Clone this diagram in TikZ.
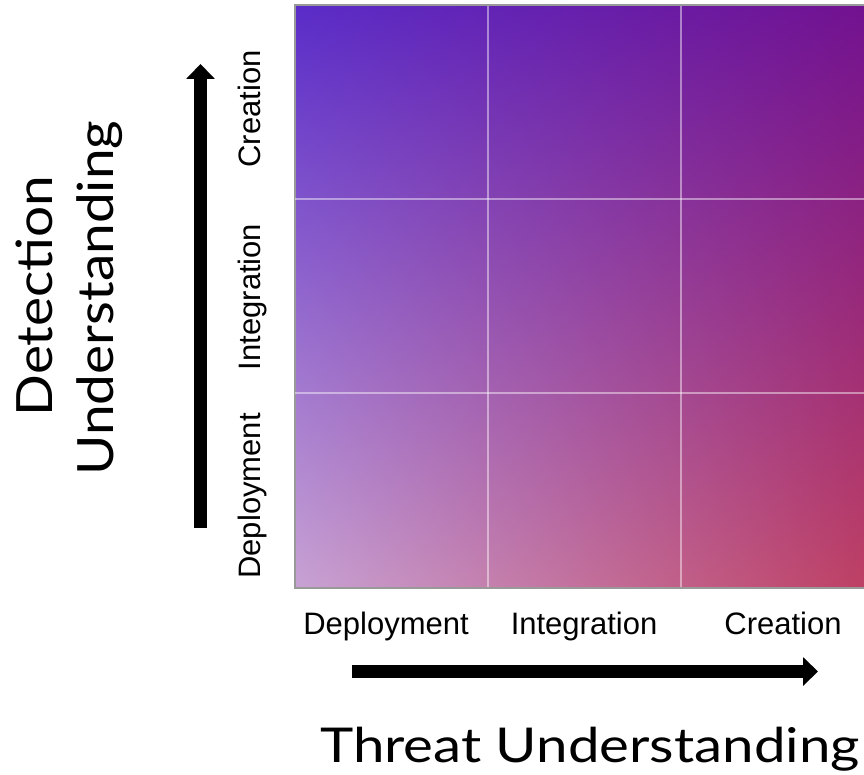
\documentclass[tikz,border=0pt]{standalone}
\usepackage{fontspec}
\setmainfont{Liberation Sans}
\newfontfamily\bigfont[FakeStretch=1.175]{Lato}
\newfontfamily\sidefont[FakeStretch=1.1]{Lato}
\usetikzlibrary{arrows.meta,shadings}
\definecolor{cTL}{RGB}{90,44,200}
\definecolor{cTR}{RGB}{114,18,144}
\definecolor{cBL}{RGB}{200,162,212}
\definecolor{cBR}{RGB}{190,64,100}
\tikzset{
  smalllabel/.style={font=\fontsize{31}{36}\selectfont, inner sep=0pt, anchor=base},
  biglabel/.style={font=\bigfont\fontsize{48}{56}\selectfont, inner sep=0pt, anchor=base},
  sidelabel/.style={font=\sidefont\fontsize{50}{58}\selectfont, inner sep=0pt, anchor=base, rotate=90},
  gridline/.style={draw=white, draw opacity=0.45, line width=1.5pt},
  bigarrow/.style={line width=13pt, -{Triangle[length=15pt,width=28pt]}},
}
\begin{document}
\begin{tikzpicture}[x=1pt,y=1pt]
\useasboundingbox (0,0) rectangle (864,-775);
% matrix background
\shade[upper left=cTL, upper right=cTR, lower left=cBL, lower right=cBR] (295,-6) rectangle (864,-587);
\draw[gray!80, line width=2pt] (864,-5.5) -- (294.5,-5.5) -- (294.5,-587.5) -- (864,-587.5);
% grid lines
\draw[gridline] (488,-6) -- (488,-587);
\draw[gridline] (681,-6) -- (681,-587);
\draw[gridline] (295,-199) -- (864,-199);
\draw[gridline] (295,-393) -- (864,-393);
% x axis labels
\node[smalllabel] (xd) at (386,-634) {Deployment};
\node[smalllabel] (xi) at (584,-634) {Integration};
\node[smalllabel] (xc) at (783,-634) {Creation};
% y axis labels
\node[smalllabel, rotate=90] (yd) at (260,-496) {Deployment};
\node[smalllabel, rotate=90] (yi) at (260,-297) {Integration};
\node[smalllabel, rotate=90] (yc) at (260,-109) {Creation};
% arrows
\coordinate (hs) at (352,-671.5);
\coordinate (he) at (818,-671.5);
\coordinate (vs) at (200.5,-528);
\coordinate (ve) at (200.5,-64);
\draw[bigarrow] (hs) -- (he);
\draw[bigarrow] (vs) -- (ve);
% axis titles
\node[biglabel] (tu) at (590,-762) {Threat Understanding};
\node[sidelabel] (dd) at (52,-296) {Detection};
\node[sidelabel] (du) at (113,-298) {Understanding};
\end{tikzpicture}
\end{document}
